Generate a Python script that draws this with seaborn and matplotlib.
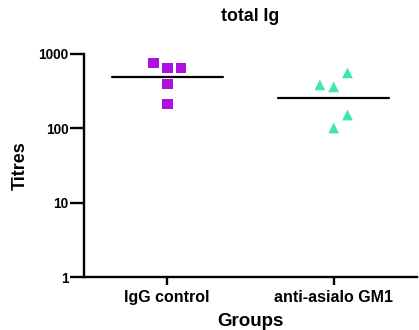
import numpy as np
import pandas as pd
import matplotlib
matplotlib.use("Agg")
import matplotlib.pyplot as plt
import seaborn as sns

groups = ["IgG control", "anti-asialo GM1"]
igg_titres = [759, 650, 650, 396, 213]
asialo_titres = [557, 384, 361, 151, 101]
# horizontal slot of each point inside its column (-1 left, 0 centre, 1 right)
igg_slots = [-1, 0, 1, 0, 0]
asialo_slots = [1, -1, 0, 1, 0]

colors = {"IgG control": "#AE10E0", "anti-asialo GM1": "#3DE8B0"}
markers = {"IgG control": "s", "anti-asialo GM1": "^"}

df = pd.DataFrame({
    "group": [groups[0]] * len(igg_titres) + [groups[1]] * len(asialo_titres),
    "titre": igg_titres + asialo_titres,
    "slot": igg_slots + asialo_slots,
})
df["x"] = df["group"].map({g: i for i, g in enumerate(groups)}) + df["slot"] * 0.083

sns.set_style("ticks", {"axes.edgecolor": "black", "text.color": "black",
                        "axes.labelcolor": "black", "xtick.color": "black",
                        "ytick.color": "black"})
plt.rcParams["font.family"] = ["Liberation Sans", "DejaVu Sans"]
plt.rcParams["font.weight"] = "bold"

fig = plt.figure(figsize=(4.19, 3.30), dpi=100)
ax = fig.add_axes([0.2005, 0.1606, 0.7945, 0.6758])

sns.scatterplot(data=df, x="x", y="titre", hue="group", style="group",
                palette=colors, markers=markers, s=60, linewidth=0,
                legend=False, ax=ax)

# geometric mean line for each group
for i, g in enumerate(groups):
    vals = df.loc[df["group"] == g, "titre"]
    gm = np.exp(np.log(vals).mean())
    ax.plot([i - 0.333, i + 0.333], [gm, gm], color="black", lw=1.6, zorder=1)

ax.set_yscale("log")
ax.set_ylim(1, 1000)
ax.set_xlim(-0.5, 1.5)
ax.set_yticks([1, 10, 100, 1000])
ax.set_yticklabels(["1", "10", "100", "1000"])
ax.yaxis.set_minor_locator(matplotlib.ticker.NullLocator())
ax.set_xticks(range(len(groups)))
ax.set_xticklabels(groups)

for side in ["top", "right"]:
    ax.spines[side].set_visible(False)
for side in ["left", "bottom"]:
    ax.spines[side].set_linewidth(1.7)
    ax.spines[side].set_color("black")
ax.tick_params(axis="y", direction="out", length=10, width=1.7,
               labelsize=9.8, pad=1, colors="black")
ax.tick_params(axis="x", direction="out", length=6, width=1.7,
               labelsize=11.5, pad=3, colors="black")
for lab in ax.get_xticklabels() + ax.get_yticklabels():
    lab.set_fontweight("bold")

ax.set_title("total Ig", fontsize=12.8, fontweight="bold", pad=24, color="black")
ax.set_xlabel("Groups", fontsize=13.5, fontweight="bold", labelpad=6, color="black")
ax.set_ylabel("Titres", fontsize=13, fontweight="bold", labelpad=7, color="black")

fig.savefig("out.png", dpi=100)
